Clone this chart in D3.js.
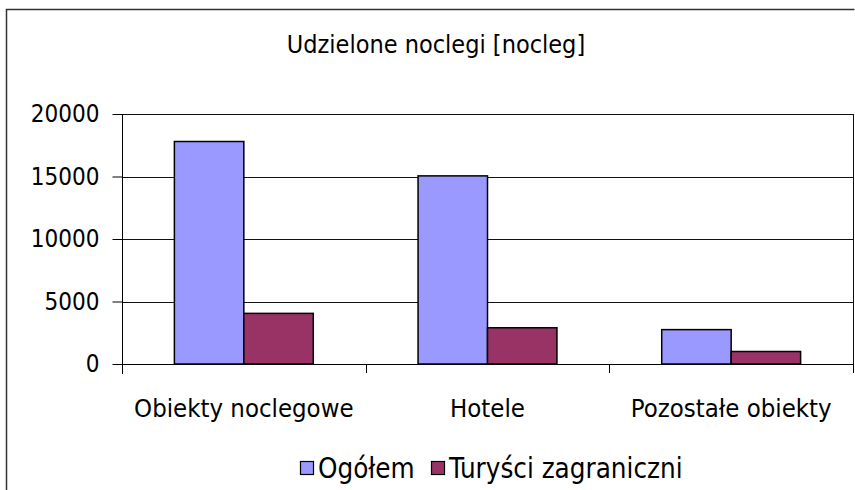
<!DOCTYPE html>
<html>
<head>
<meta charset="utf-8">
<script src="https://cdn.jsdelivr.net/npm/d3@7/dist/d3.min.js"></script>
<style>
  html, body { margin: 0; padding: 0; background: #fff; }
  svg { display: block; }
  text { font-family: "DejaVu Sans Condensed", "DejaVu Sans", sans-serif; fill: #000; }
</style>
</head>
<body>
<script>
// Accommodation nights granted, total vs. foreign tourists
const categories = ["Obiekty noclegowe", "Hotele", "Pozostałe obiekty"];
const seriesNames = ["Ogółem", "Turyści zagraniczni"];
const ogolem = [17800, 15050, 2750];
const turysci = [4050, 2900, 1000];
const yTicks = [0, 5000, 10000, 15000, 20000];
const colors = ["#9999FF", "#993366"];
const title = "Udzielone noclegi [nocleg]";

const W = 855, H = 490;
const plot = { left: 122, right: 853, top: 114, bottom: 364 };

const svg = d3.select("body").append("svg")
  .attr("width", W).attr("height", H);

// outer chart frame (right and bottom edges fall outside the canvas)
svg.append("path")
  .attr("d", `M6.5,${H + 2} V9.5 H854.5`)
  .attr("fill", "none").attr("stroke", "#333").attr("stroke-width", 1.5);

svg.append("text")
  .attr("x", 436).attr("y", 44).attr("dy", "0.35em")
  .attr("text-anchor", "middle")
  .style("font-size", "25px")
  .text(title);

const x0 = d3.scaleBand().domain(categories)
  .range([plot.left, plot.right]).paddingInner(0.43).paddingOuter(0.215);
const x1 = d3.scaleBand().domain(seriesNames).range([0, x0.bandwidth()]);
const y = d3.scaleLinear().domain([0, 20000]).range([plot.bottom, plot.top]);

// horizontal gridlines
svg.append("g").selectAll("line").data(yTicks.filter(d => d > 0)).join("line")
  .attr("x1", plot.left).attr("x2", plot.right)
  .attr("y1", d => Math.round(y(d)) + 0.5).attr("y2", d => Math.round(y(d)) + 0.5)
  .attr("stroke", "#111").attr("stroke-width", 1);

// right edge of plot area
svg.append("line")
  .attr("x1", plot.right + 0.5).attr("x2", plot.right + 0.5)
  .attr("y1", plot.top).attr("y2", plot.bottom)
  .attr("stroke", "#111");

// bars
const rows = categories.map((c, i) => ({ cat: c, vals: [ogolem[i], turysci[i]] }));
svg.append("g").selectAll("g").data(rows).join("g")
  .attr("transform", d => `translate(${x0(d.cat)},0)`)
  .selectAll("rect").data(d => d.vals.map((v, j) => ({ key: seriesNames[j], v, j })))
  .join("rect")
  .attr("x", d => x1(d.key))
  .attr("width", x1.bandwidth())
  .attr("y", d => y(d.v))
  .attr("height", d => y(0) - y(d.v))
  .attr("fill", d => colors[d.j])
  .attr("stroke", "#000").attr("stroke-width", 1.5);

// y axis
const yAxis = d3.axisLeft(y).tickValues(yTicks).tickSize(10).tickPadding(13)
  .tickFormat(d3.format("d"));
const gy = svg.append("g").attr("transform", `translate(${plot.left + 0.5},0)`).call(yAxis);
gy.select(".domain").attr("stroke", "#000").attr("d", `M0,${plot.top}V${plot.bottom + 10}`);
gy.selectAll(".tick line").attr("stroke", "#000");
gy.selectAll(".tick text").style("font-size", "24px").attr("fill", "#000").attr("font-family", null);

// x axis: baseline, ticks between categories, labels centred on groups
const gx = svg.append("g");
gx.append("line")
  .attr("x1", plot.left).attr("x2", plot.right + 1)
  .attr("y1", plot.bottom + 0.5).attr("y2", plot.bottom + 0.5)
  .attr("stroke", "#000");
const boundaries = d3.range(categories.length + 1).map(i => plot.left + i * x0.step());
gx.selectAll("line.tk").data(boundaries.slice(1)).join("line")
  .attr("class", "tk")
  .attr("x1", d => Math.round(d) + 0.5).attr("x2", d => Math.round(d) + 0.5)
  .attr("y1", plot.bottom).attr("y2", plot.bottom + 9)
  .attr("stroke", "#000");
gx.selectAll("text").data(categories).join("text")
  .attr("x", d => x0(d) + x0.bandwidth() / 2)
  .attr("y", 408).attr("dy", "0.35em")
  .attr("text-anchor", "middle")
  .style("font-size", "25.5px")
  .text(d => d);

// legend
const legend = svg.append("g");
const legendX = [300, 431];
seriesNames.forEach((name, i) => {
  legend.append("rect")
    .attr("x", legendX[i] + 0.5).attr("y", 461.5).attr("width", 13).attr("height", 13)
    .attr("fill", colors[i]).attr("stroke", "#000").attr("stroke-width", 1.2);
  legend.append("text")
    .attr("x", legendX[i] + 18).attr("y", 468).attr("dy", "0.35em")
    .style("font-size", "27.5px")
    .text(name);
});
</script>
</body>
</html>
